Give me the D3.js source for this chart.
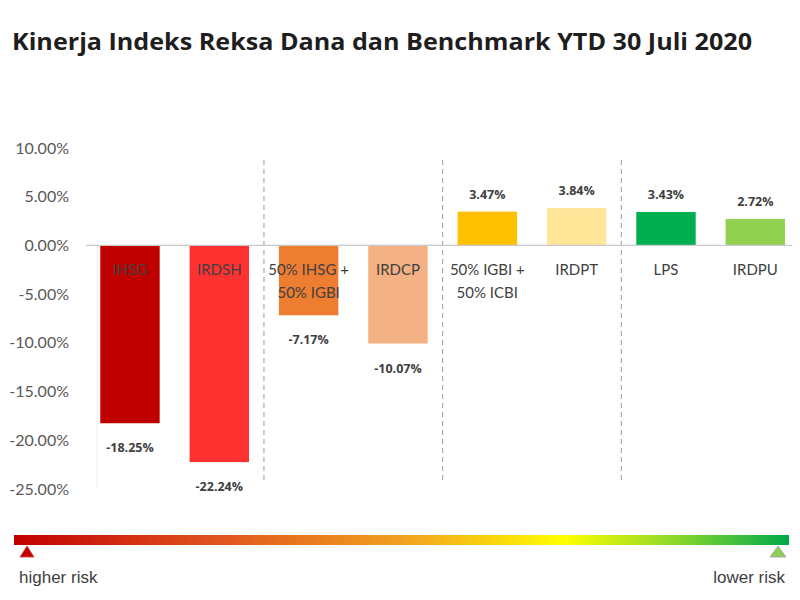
<!DOCTYPE html>
<html><head><meta charset="utf-8">
<script src="https://cdn.jsdelivr.net/npm/d3@7"></script>
<style>body{margin:0;background:#fff}svg{display:block}</style>
</head><body>
<svg id="c" width="800" height="600"></svg>
<script>
const categories = [["IHSG"],["IRDSH"],["50% IHSG +","50% IGBI"],["IRDCP"],["50% IGBI +","50% ICBI"],["IRDPT"],["LPS"],["IRDPU"]];
const values = [-18.25, -22.24, -7.17, -10.07, 3.47, 3.84, 3.43, 2.72];
const colors = ["#c00000","#ff3131","#ed7d31","#f4b183","#ffc000","#ffe699","#00b050","#92d050"];
const yTicks = [10, 5, 0, -5, -10, -15, -20, -25];
const groupBreaks = [2, 4, 6];
const title = "Kinerja Indeks Reksa Dana dan Benchmark YTD 30 Juli 2020";

const svg = d3.select("#c");
const font = "'Open Sans', 'Noto Sans', sans-serif";
const lato = "Lato, 'Open Sans', sans-serif";

svg.append("text").attr("x", 12).attr("y", 49.5).attr("font-family", font)
  .attr("font-weight", 700).attr("font-size", 23.5).attr("fill", "#1e1e1e")
  .attr("textLength", 740).attr("lengthAdjust", "spacingAndGlyphs").text(title);

const x = d3.scaleBand().domain(d3.range(values.length)).range([85.3, 800]).paddingInner(0.335).paddingOuter(0.1675);
const y = d3.scaleLinear().domain([-25, 10]).range([489, 148]);

// y axis labels
const yAxis = d3.axisLeft(y).tickValues(yTicks).tickSize(0).tickPadding(0)
  .tickFormat(d => d.toFixed(2) + "%");
const ga = svg.append("g").attr("transform", "translate(69,0)").call(yAxis);
ga.select(".domain").remove();
ga.selectAll("text").attr("font-family", lato).attr("font-size", 16).attr("fill", "#595959");

// faint axis line
svg.append("line").attr("x1", 97).attr("x2", 97).attr("y1", y(0)).attr("y2", y(-25)).attr("stroke", "#f0f0f0");

// group separators
const step = x.step();
svg.selectAll("line.sep").data(groupBreaks).join("line").attr("class", "sep")
  .attr("x1", d => x.range()[0] + d * step).attr("x2", d => x.range()[0] + d * step)
  .attr("y1", 160).attr("y2", 480).attr("stroke", "#9a9a9a").attr("stroke-width", 1)
  .attr("stroke-dasharray", "5,4");

// bars
svg.selectAll("rect.bar").data(values).join("rect").attr("class", "bar")
  .attr("x", (d, i) => x(i)).attr("width", x.bandwidth())
  .attr("y", d => y(Math.max(0, d))).attr("height", d => Math.abs(y(d) - y(0)))
  .attr("fill", (d, i) => colors[i]);

// zero line
svg.append("line").attr("x1", 86).attr("x2", 792).attr("y1", y(0)).attr("y2", y(0))
  .attr("stroke", "#c8c8c8").attr("stroke-width", 1.2);

// category labels
const cl = svg.selectAll("text.cat").data(categories).join("text").attr("class", "cat")
  .attr("x", (d, i) => x(i) + x.bandwidth() / 2).attr("y", y(0) + 30)
  .attr("text-anchor", "middle").attr("font-family", lato).attr("font-size", 15)
  .attr("fill", "#404040");
cl.selectAll("tspan").data(d => d).join("tspan")
  .attr("x", function() { return d3.select(this.parentNode).attr("x"); })
  .attr("dy", (d, i) => i === 0 ? 0 : 23).text(d => d);

// value labels
svg.selectAll("text.val").data(values).join("text").attr("class", "val")
  .attr("x", (d, i) => x(i) + x.bandwidth() / 2)
  .attr("y", d => d < 0 ? y(d) + 29 : y(d) - 13)
  .attr("text-anchor", "middle").attr("font-family", font).attr("font-size", 12.5)
  .attr("font-weight", 700).attr("fill", "#404040")
  .text(d => d.toFixed(2) + "%");

// risk gradient bar
const defs = svg.append("defs");
const grad = defs.append("linearGradient").attr("id", "risk").attr("x1", "0%").attr("x2", "100%");
[["0%","#c00000"],["25%","#e0501e"],["50%","#f2a020"],["71%","#ffff00"],["85%","#8ed82a"],["100%","#00a94a"]]
  .forEach(([o, c]) => grad.append("stop").attr("offset", o).attr("stop-color", c));
svg.append("rect").attr("x", 14).attr("y", 535).attr("width", 775).attr("height", 10).attr("fill", "url(#risk)");

svg.append("path").attr("d", "M27,546 L34,557 L20,557 Z").attr("fill", "#c00000").attr("stroke", "#d04040").attr("stroke-width", 0.8);
svg.append("path").attr("d", "M778,546 L786,557 L770,557 Z").attr("fill", "#8fce58").attr("stroke", "#a0a0a0").attr("stroke-width", 0.8);

svg.append("text").attr("x", 19).attr("y", 583).attr("font-family", "'Liberation Sans', Arial, sans-serif")
  .attr("font-size", 17).attr("fill", "#404040").text("higher risk");
svg.append("text").attr("x", 785).attr("y", 583).attr("text-anchor", "end").attr("font-family", "'Liberation Sans', Arial, sans-serif")
  .attr("font-size", 17).attr("fill", "#404040").text("lower risk");
</script>
</body></html>
